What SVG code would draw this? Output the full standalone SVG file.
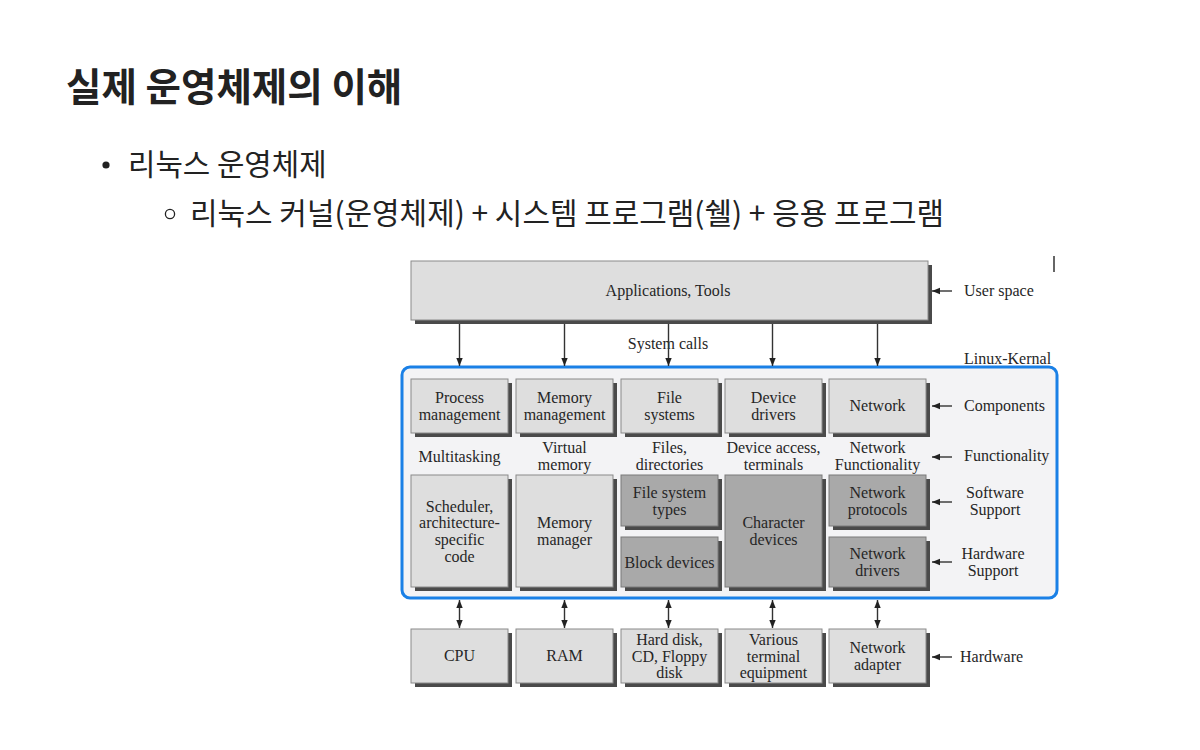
<svg xmlns="http://www.w3.org/2000/svg" width="1200" height="750" viewBox="0 0 1200 750">
<style>
.ko{font-family:"Noto Sans CJK KR","Noto Sans",sans-serif;fill:#222}
.t{font-family:"Liberation Serif","Times New Roman",serif;font-size:16px;fill:#262626;text-anchor:middle}
.tl{font-family:"Liberation Serif","Times New Roman",serif;font-size:16px;fill:#262626}
.sh{fill:#4a4a4a}
.lt{fill:#dedede;stroke:#8a8a8a;stroke-width:1}
.dk{fill:#a9a9a9;stroke:#7a7a7a;stroke-width:1}
.ln{stroke:#333;stroke-width:1.4;fill:none}
</style>
<defs>
<marker id="ah" viewBox="0 0 10 10" refX="10" refY="5" markerWidth="8" markerHeight="8" orient="auto-start-reverse" markerUnits="userSpaceOnUse">
<path d="M0,1 L10,5 L0,9 z" fill="#222"/>
</marker>
</defs>
<rect width="1200" height="750" fill="#ffffff"/>

<g id="heading">
<text class="ko" x="66" y="101" font-size="38.5" font-weight="bold" fill="#1f1f1f">실제 운영체제의 이해</text>
<circle cx="106" cy="165" r="3.6" fill="#222"/>
<text class="ko" x="128" y="175" font-size="29.8">리눅스 운영체제</text>
<circle cx="170" cy="214" r="4.6" fill="none" stroke="#222" stroke-width="1.3"/>
<text class="ko" x="190" y="224" font-size="29.95">리눅스 커널(운영체제) + 시스템 프로그램(쉘) + 응용 프로그램</text>
</g>
<line x1="1054" y1="256" x2="1054" y2="272" stroke="#333" stroke-width="1.5"/>

<g id="apps">
<rect class="sh" x="415" y="265" width="517" height="59"/>
<rect class="lt" x="411" y="261" width="517" height="59"/>
<text class="t" x="668" y="296">Applications, Tools</text>
</g>
<text class="tl" x="964" y="296">User space</text>
<text class="t" x="668" y="349">System calls</text>
<text class="tl" x="964" y="364">Linux-Kernal</text>

<g id="kernel">
<rect x="402" y="367" width="655" height="231" rx="8" ry="8" fill="#f3f3f5" stroke="#1a80e6" stroke-width="3"/>
</g>

<g id="process-mgmt">
<rect class="sh" x="415" y="383" width="97" height="54"/>
<rect class="lt" x="411" y="379" width="97" height="54"/>
<text class="t" x="459.5" y="403">Process</text>
<text class="t" x="459.5" y="420">management</text>
</g>
<g id="memory-mgmt">
<rect class="sh" x="520" y="383" width="97" height="54"/>
<rect class="lt" x="516" y="379" width="97" height="54"/>
<text class="t" x="564.5" y="403">Memory</text>
<text class="t" x="564.5" y="420">management</text>
</g>
<g id="file-systems">
<rect class="sh" x="625" y="383" width="97" height="54"/>
<rect class="lt" x="621" y="379" width="97" height="54"/>
<text class="t" x="669.5" y="403">File</text>
<text class="t" x="669.5" y="420">systems</text>
</g>
<g id="device-drivers">
<rect class="sh" x="729" y="383" width="97" height="54"/>
<rect class="lt" x="725" y="379" width="97" height="54"/>
<text class="t" x="773.5" y="403">Device</text>
<text class="t" x="773.5" y="420">drivers</text>
</g>
<g id="network">
<rect class="sh" x="833" y="383" width="97" height="54"/>
<rect class="lt" x="829" y="379" width="97" height="54"/>
<text class="t" x="877.5" y="411">Network</text>
</g>

<g id="functionality">
<text class="t" x="459.5" y="462">Multitasking</text>
<text class="t" x="564.5" y="453">Virtual</text>
<text class="t" x="564.5" y="470">memory</text>
<text class="t" x="669.5" y="453">Files,</text>
<text class="t" x="669.5" y="470">directories</text>
<text class="t" x="773.5" y="453">Device access,</text>
<text class="t" x="773.5" y="470">terminals</text>
<text class="t" x="877.5" y="453">Network</text>
<text class="t" x="877.5" y="470">Functionality</text>
</g>

<g id="scheduler">
<rect class="sh" x="415" y="479" width="97" height="112"/>
<rect class="lt" x="411" y="475" width="97" height="112"/>
<text class="t" x="459.5" y="512">Scheduler,</text>
<text class="t" x="459.5" y="528">architecture-</text>
<text class="t" x="459.5" y="545">specific</text>
<text class="t" x="459.5" y="562">code</text>
</g>
<g id="memory-manager">
<rect class="sh" x="520" y="479" width="97" height="112"/>
<rect class="lt" x="516" y="475" width="97" height="112"/>
<text class="t" x="564.5" y="528">Memory</text>
<text class="t" x="564.5" y="545">manager</text>
</g>
<g id="fs-types">
<rect class="sh" x="625" y="479" width="97" height="51"/>
<rect class="dk" x="621" y="475" width="97" height="51"/>
<text class="t" x="669.5" y="498">File system</text>
<text class="t" x="669.5" y="515">types</text>
</g>
<g id="block-devices">
<rect class="sh" x="625" y="541" width="97" height="50"/>
<rect class="dk" x="621" y="537" width="97" height="50"/>
<text class="t" x="669.5" y="568">Block devices</text>
</g>
<g id="char-devices">
<rect class="sh" x="729" y="479" width="97" height="112"/>
<rect class="dk" x="725" y="475" width="97" height="112"/>
<text class="t" x="773.5" y="528">Character</text>
<text class="t" x="773.5" y="545">devices</text>
</g>
<g id="net-protocols">
<rect class="sh" x="833" y="479" width="97" height="51"/>
<rect class="dk" x="829" y="475" width="97" height="51"/>
<text class="t" x="877.5" y="498">Network</text>
<text class="t" x="877.5" y="515">protocols</text>
</g>
<g id="net-drivers">
<rect class="sh" x="833" y="541" width="97" height="50"/>
<rect class="dk" x="829" y="537" width="97" height="50"/>
<text class="t" x="877.5" y="559">Network</text>
<text class="t" x="877.5" y="576">drivers</text>
</g>

<g id="labels">
<text class="tl" x="964" y="411">Components</text>
<text class="tl" x="964" y="461">Functionality</text>
<text class="t" x="995" y="498">Software</text>
<text class="t" x="995" y="515">Support</text>
<text class="t" x="993" y="559">Hardware</text>
<text class="t" x="993" y="576">Support</text>
<text class="tl" x="960" y="662">Hardware</text>
</g>

<g id="cpu">
<rect class="sh" x="415" y="633" width="97" height="54"/>
<rect class="lt" x="411" y="629" width="97" height="54"/>
<text class="t" x="459.5" y="661">CPU</text>
</g>
<g id="ram">
<rect class="sh" x="520" y="633" width="97" height="54"/>
<rect class="lt" x="516" y="629" width="97" height="54"/>
<text class="t" x="564.5" y="661">RAM</text>
</g>
<g id="disks">
<rect class="sh" x="625" y="633" width="97" height="54"/>
<rect class="lt" x="621" y="629" width="97" height="54"/>
<text class="t" x="669.5" y="645">Hard disk,</text>
<text class="t" x="669.5" y="662">CD, Floppy</text>
<text class="t" x="669.5" y="678">disk</text>
</g>
<g id="terminals">
<rect class="sh" x="729" y="633" width="97" height="54"/>
<rect class="lt" x="725" y="629" width="97" height="54"/>
<text class="t" x="773.5" y="645">Various</text>
<text class="t" x="773.5" y="662">terminal</text>
<text class="t" x="773.5" y="678">equipment</text>
</g>
<g id="net-adapter">
<rect class="sh" x="833" y="633" width="97" height="54"/>
<rect class="lt" x="829" y="629" width="97" height="54"/>
<text class="t" x="877.5" y="653">Network</text>
<text class="t" x="877.5" y="670">adapter</text>
</g>

<g id="connectors">
<line class="ln" x1="459.5" y1="324" x2="459.5" y2="366" marker-end="url(#ah)"/>
<line class="ln" x1="564.5" y1="324" x2="564.5" y2="366" marker-end="url(#ah)"/>
<line class="ln" x1="668.5" y1="324" x2="668.5" y2="366" marker-end="url(#ah)"/>
<line class="ln" x1="772.5" y1="324" x2="772.5" y2="366" marker-end="url(#ah)"/>
<line class="ln" x1="877.5" y1="324" x2="877.5" y2="366" marker-end="url(#ah)"/>
<line class="ln" x1="459.5" y1="600" x2="459.5" y2="628" marker-start="url(#ah)" marker-end="url(#ah)"/>
<line class="ln" x1="564.5" y1="600" x2="564.5" y2="628" marker-start="url(#ah)" marker-end="url(#ah)"/>
<line class="ln" x1="668.5" y1="600" x2="668.5" y2="628" marker-start="url(#ah)" marker-end="url(#ah)"/>
<line class="ln" x1="772.5" y1="600" x2="772.5" y2="628" marker-start="url(#ah)" marker-end="url(#ah)"/>
<line class="ln" x1="877.5" y1="600" x2="877.5" y2="628" marker-start="url(#ah)" marker-end="url(#ah)"/>
<line class="ln" x1="952" y1="291" x2="932" y2="291" marker-end="url(#ah)"/>
<line class="ln" x1="952" y1="406" x2="932" y2="406" marker-end="url(#ah)"/>
<line class="ln" x1="952" y1="457" x2="932" y2="457" marker-end="url(#ah)"/>
<line class="ln" x1="952" y1="502" x2="932" y2="502" marker-end="url(#ah)"/>
<line class="ln" x1="952" y1="562" x2="932" y2="562" marker-end="url(#ah)"/>
<line class="ln" x1="952" y1="657" x2="932" y2="657" marker-end="url(#ah)"/>
</g>
</svg>
